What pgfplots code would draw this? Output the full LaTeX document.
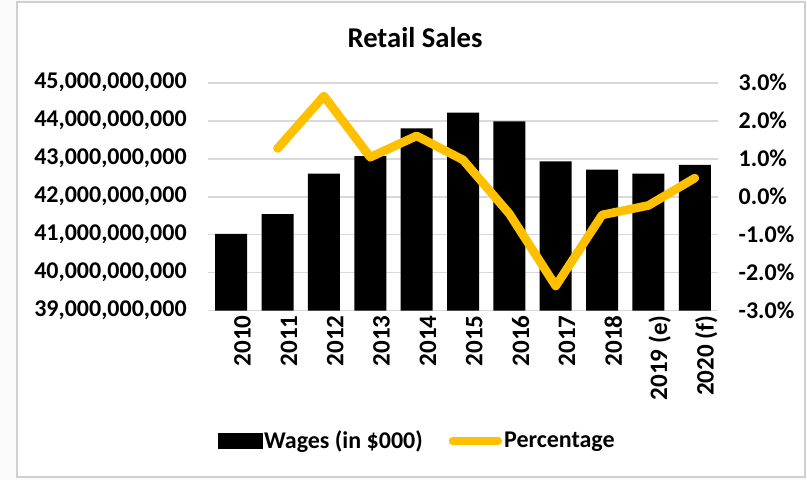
\documentclass[border=0pt]{standalone}
\usepackage{fontspec}
\setmainfont{Carlito}
\usepackage{pgfplots}
\pgfplotsset{compat=1.18}
\definecolor{gold}{HTML}{FFC000}
\definecolor{gridc}{HTML}{D9D9D9}
\definecolor{framec}{HTML}{D0D0D0}
\begin{document}
\begin{tikzpicture}
\path[use as bounding box, fill=gray!4] (0pt,0pt) rectangle (605.25pt,360pt);
\draw[framec, line width=0.9pt, fill=white] (12.75pt,2.25pt) rectangle (603.75pt,358.5pt);
\node[font=\bfseries\fontsize{21.5}{24}\selectfont] at (311.25pt,331.5pt) {Retail Sales};
\begin{axis}[
  at={(156pt,126.98pt)}, anchor=south west,
  scale only axis, width=382.5pt, height=171pt,
  xmin=-0.5, xmax=10.5, ymin=39e9, ymax=45e9,
  axis x line*=bottom, axis y line*=left,
  axis line style={draw=none},
  scaled y ticks=false,
  ymajorgrids, grid style={gridc, line width=1.2pt},
  ytick={39e9,40e9,41e9,42e9,43e9,44e9,45e9},
  yticklabels={{39,000,000,000},{40,000,000,000},{41,000,000,000},{42,000,000,000},{43,000,000,000},{44,000,000,000},{45,000,000,000}},
  xtick={0,1,2,3,4,5,6,7,8,9,10},
  xticklabels={2010,2011,2012,2013,2014,2015,2016,2017,2018,{2019 (e)},{2020 (f)}},
  major tick length=0pt,
  ticklabel style={font=\bfseries\fontsize{18}{20}\selectfont},
  yticklabel style={xshift=-12.5pt},
  xticklabel style={rotate=90, anchor=east, yshift=-8.5pt, font=\bfseries\fontsize{18.8}{20}\selectfont},
  clip=false,
]
\addplot[ybar, bar width=24pt, fill=black, draw=none] coordinates {
 (0,41.02e9) (1,41.54e9) (2,42.61e9) (3,43.07e9) (4,43.80e9) (5,44.21e9)
 (6,43.98e9) (7,42.93e9) (8,42.71e9) (9,42.61e9) (10,42.84e9)};
\end{axis}
\begin{axis}[
  at={(156pt,126.98pt)}, anchor=south west,
  scale only axis, width=382.5pt, height=171pt,
  xmin=-0.5, xmax=10.5, ymin=-3, ymax=3,
  axis x line=none, axis y line*=right, y axis line style={draw=none},
  ytick={-3,-2,-1,0,1,2,3},
  yticklabels={{-3.0\%},{-2.0\%},{-1.0\%},{0.0\%},{1.0\%},{2.0\%},{3.0\%}},
  major tick length=0pt,
  ticklabel style={font=\bfseries\fontsize{18}{20}\selectfont},
  yticklabel style={xshift=12pt},
  legend columns=2,
  legend style={at={(0.41,-0.571)}, anchor=center, draw=none, fill=none,
    font=\bfseries\fontsize{18}{20}\selectfont,
    nodes={inner sep=1.5pt},
    /tikz/every even column/.append style={column sep=18pt}},
]
\addlegendimage{legend image code/.code={\fill[black] (0pt,-5.5pt) rectangle (33pt,5.5pt);}}
\addlegendentry{Wages (in \$000)}
\addplot[gold, line width=6.5pt, line join=round, line cap=round,
  legend image code/.code={\draw[gold, line width=6pt, line cap=round] (3pt,0pt) -- (37pt,0pt);}]
  coordinates {(1,1.27) (2,2.65) (3,1.04) (4,1.60) (5,0.97) (6,-0.45) (7,-2.35) (8,-0.48) (9,-0.23) (10,0.49)};
\addlegendentry{Percentage}
\end{axis}
\end{tikzpicture}
\end{document}
